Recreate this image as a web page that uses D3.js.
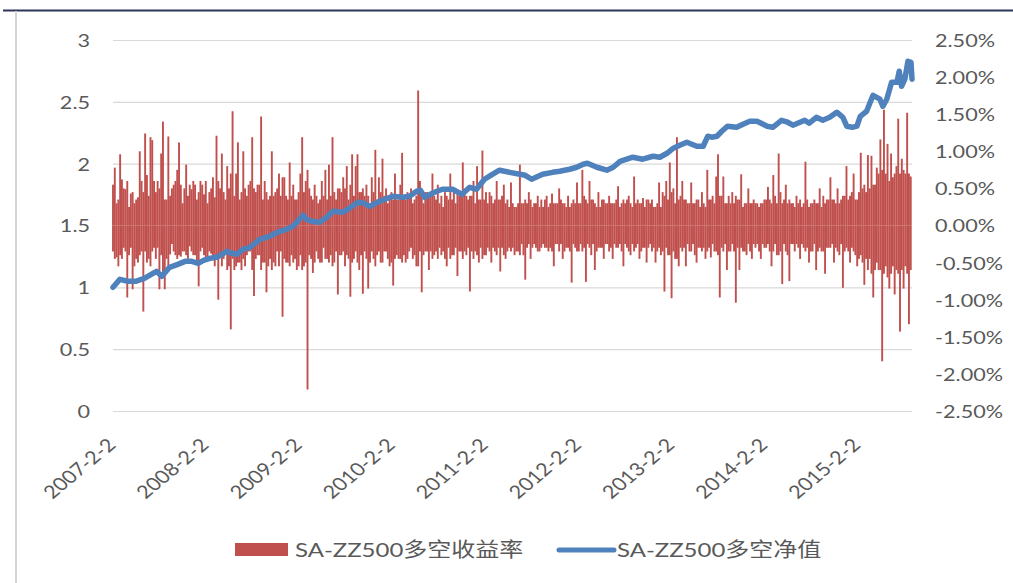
<!DOCTYPE html>
<html><head><meta charset="utf-8">
<script src="https://cdn.jsdelivr.net/npm/d3@7"></script>
<style>html,body{margin:0;padding:0;background:#fff;} svg{display:block;}</style>
</head><body>
<svg id="chart" width="1013" height="583"></svg>
<script>
// ---------------- data ----------------
const xTickLabels = ["2007-2-2","2008-2-2","2009-2-2","2010-2-2","2011-2-2","2012-2-2","2013-2-2","2014-2-2","2015-2-2"];
const leftTicks = [0, 0.5, 1, 1.5, 2, 2.5, 3];
const rightTicks = [-0.025, -0.02, -0.015, -0.01, -0.005, 0, 0.005, 0.01, 0.015, 0.02, 0.025];
const seriesNames = ["SA-ZZ500多空收益率", "SA-ZZ500多空净值"];
const returnStart = "2007-02-02";
const returnEnd = "2015-09-02";
// largest daily long-short return of each week, in percent
const weeklyReturns = [
 0.55,0.78,-0.43,0.35,0.96,0.62,-0.30,0.49,-0.97,0.25,0.43,-0.86,0.30,-0.45,0.38,1.00,-0.35,-1.16,1.24,0.68,
 -0.45,1.19,1.15,-0.30,0.45,0.60,-0.86,0.97,1.40,-0.86,0.35,1.20,-0.39,-0.25,0.55,-0.40,0.75,1.12,-0.42,0.30,
 -0.35,0.82,0.40,-0.28,0.49,-0.40,0.55,0.35,-0.82,0.60,-0.30,0.42,-0.45,0.30,0.45,-0.38,0.65,0.38,1.21,-1.00,
 0.50,0.97,-0.45,0.35,0.80,-0.55,-1.40,1.54,-0.60,0.70,1.12,-0.50,0.45,1.00,-0.55,0.40,-0.35,0.60,1.19,-0.95,
 0.45,-0.40,0.55,1.47,-0.50,0.60,-0.90,0.35,-0.45,1.00,0.40,-0.55,0.50,0.70,-0.35,-1.23,0.65,0.40,-0.50,0.85,
 -0.40,0.55,0.35,-0.60,0.45,0.70,1.19,-0.55,0.60,-2.21,0.50,0.40,-0.64,0.55,-0.35,0.30,-0.50,0.60,-0.30,0.75,
 -0.45,0.82,0.40,1.19,-0.50,0.35,-0.93,0.50,-0.40,0.65,-0.55,0.80,0.35,-0.96,0.96,-0.45,0.80,0.96,-0.60,0.45,
 -0.92,0.40,0.55,-0.85,0.30,0.65,-0.45,1.02,0.35,0.65,-0.50,0.90,-0.35,0.50,0.30,-0.55,0.45,-0.81,0.70,0.35,
 -0.45,0.55,0.98,0.40,-0.50,0.45,-0.35,0.50,0.30,-0.40,-0.55,1.82,0.60,-0.90,0.30,0.45,-0.35,-0.60,0.40,0.70,
 -0.40,0.35,0.55,-0.30,0.40,0.25,-0.45,-0.55,0.35,0.70,-0.40,0.45,0.30,-0.68,0.40,-0.35,0.85,0.45,-0.40,0.35,
 -0.89,0.40,0.60,-0.35,0.80,-0.50,0.35,1.01,-0.40,0.45,0.30,0.45,-0.50,0.30,-0.35,0.60,0.35,-0.62,0.40,0.55,
 -0.45,0.35,-0.30,0.58,0.30,-0.40,0.25,-0.35,0.82,0.30,-0.40,-0.73,0.30,0.45,-0.45,0.25,0.30,-0.30,0.40,-0.35,
 0.35,0.25,-0.30,0.40,-0.35,0.30,0.43,-0.55,0.30,-0.25,0.50,0.35,-0.45,0.30,-0.30,0.40,0.25,-0.77,0.35,-0.30,
 0.58,-0.35,0.30,0.75,0.40,-0.76,0.30,0.60,-0.40,0.35,-0.60,0.25,0.45,-0.30,0.35,-0.45,0.30,-0.25,0.40,0.30,
 -0.45,0.30,-0.30,0.53,0.25,-0.35,-0.55,0.30,0.35,0.40,-0.40,0.25,0.66,-0.30,0.35,-0.45,0.30,0.37,-0.30,-0.50,
 0.35,0.30,-0.35,0.25,-0.50,0.30,0.58,-0.40,0.45,-0.89,0.60,-0.40,0.85,-0.98,0.50,-0.45,1.19,-0.55,0.40,0.60,
 0.35,-0.55,0.30,-0.35,0.58,0.30,-0.40,-0.50,0.35,-0.30,0.45,0.30,-0.45,0.75,0.35,-0.43,0.40,-0.35,0.66,0.96,
 -0.97,0.40,0.66,0.30,-0.60,0.40,-0.35,0.45,0.30,-1.04,0.35,-0.60,0.69,-0.35,0.30,-0.40,0.50,0.30,-0.45,0.35,
 -0.30,0.30,0.25,-0.45,0.30,-0.30,0.35,0.52,-0.35,-0.55,0.68,0.40,-0.40,0.97,0.45,-0.79,0.35,0.55,-0.40,-0.75,
 0.30,-0.25,0.25,0.40,0.30,-0.45,0.25,-0.30,0.86,0.35,-0.50,0.30,-0.35,0.35,-0.60,0.30,0.50,-0.35,0.40,-0.65,
 0.35,-0.30,0.65,0.35,-0.50,0.30,0.50,-0.40,0.35,-0.84,0.40,0.80,-0.35,-0.50,0.45,0.70,0.35,-0.55,0.45,0.98,
 0.50,-0.80,0.45,0.95,-0.45,0.94,-0.97,0.55,0.78,-0.60,1.16,-1.83,1.56,0.70,1.10,-0.85,0.97,0.65,-0.93,0.80,
 1.44,-1.43,0.90,-0.85,0.70,1.52,-1.33,0.66
];
// size of the largest daily move in the opposite direction in the same week, in percent
const weeklyOppositeMove = [
 0.35,0.45,0.30,0.55,0.40,0.45,0.50,0.35,0.60,0.40,0.30,0.45,0.55,0.35,0.50,0.40,0.60,0.45,0.35,0.50,
 0.40,0.55,0.35,0.60,0.45,0.30,0.50,0.40,0.65,0.35,0.45,0.55,0.40,0.50,0.35,0.60,0.45,0.40,0.55,0.35,
 0.50,0.40,0.45,0.55,0.35,0.60,0.40,0.50,0.45,0.35,0.55,0.40,0.60,0.45,0.35,0.50,0.40,0.55,0.45,0.60,
 0.40,0.55,0.45,0.35,0.60,0.50,0.70,0.45,0.40,0.55,0.50,0.35,0.60,0.45,0.50,0.40,0.55,0.35,0.60,0.50,
 0.45,0.55,0.40,0.60,0.35,0.50,0.45,0.55,0.40,0.60,0.50,0.45,0.35,0.55,0.40,0.65,0.45,0.50,0.35,0.55,
 0.40,0.50,0.45,0.35,0.55,0.40,0.60,0.45,0.50,0.75,0.40,0.45,0.35,0.50,0.40,0.45,0.35,0.50,0.40,0.45,
 0.35,0.50,0.40,0.55,0.45,0.35,0.50,0.40,0.45,0.35,0.50,0.40,0.45,0.55,0.50,0.40,0.35,0.50,0.45,0.40,
 0.50,0.35,0.45,0.40,0.50,0.35,0.45,0.55,0.40,0.35,0.45,0.50,0.40,0.35,0.45,0.40,0.50,0.35,0.45,0.40,
 0.35,0.45,0.50,0.40,0.35,0.45,0.40,0.30,0.45,0.35,0.40,0.55,0.35,0.45,0.40,0.35,0.45,0.40,0.35,0.45,
 0.40,0.35,0.45,0.30,0.40,0.35,0.45,0.40,0.30,0.45,0.35,0.40,0.30,0.45,0.35,0.40,0.45,0.35,0.40,0.30,
 0.40,0.35,0.45,0.30,0.40,0.35,0.30,0.45,0.35,0.40,0.30,0.35,0.40,0.30,0.35,0.40,0.30,0.35,0.30,0.40,
 0.30,0.35,0.25,0.35,0.30,0.25,0.35,0.30,0.40,0.25,0.30,0.35,0.30,0.25,0.35,0.30,0.25,0.30,0.35,0.25,
 0.30,0.25,0.35,0.30,0.25,0.30,0.35,0.30,0.25,0.30,0.35,0.25,0.30,0.35,0.25,0.30,0.35,0.30,0.25,0.30,
 0.35,0.30,0.25,0.35,0.30,0.35,0.25,0.30,0.35,0.25,0.30,0.35,0.30,0.25,0.30,0.35,0.25,0.30,0.35,0.30,
 0.30,0.25,0.35,0.30,0.25,0.30,0.35,0.25,0.30,0.35,0.30,0.25,0.35,0.30,0.25,0.30,0.35,0.30,0.25,0.35,
 0.30,0.25,0.35,0.30,0.25,0.35,0.30,0.25,0.35,0.40,0.30,0.35,0.40,0.45,0.35,0.30,0.45,0.35,0.30,0.35,
 0.30,0.35,0.25,0.30,0.35,0.25,0.30,0.35,0.30,0.25,0.35,0.30,0.25,0.35,0.30,0.35,0.25,0.30,0.35,0.40,
 0.40,0.30,0.35,0.25,0.30,0.35,0.30,0.25,0.35,0.40,0.30,0.35,0.30,0.25,0.35,0.30,0.25,0.35,0.30,0.25,
 0.30,0.25,0.35,0.30,0.25,0.35,0.30,0.25,0.35,0.30,0.35,0.25,0.30,0.40,0.35,0.30,0.25,0.35,0.30,0.35,
 0.25,0.30,0.35,0.25,0.30,0.35,0.25,0.30,0.35,0.30,0.25,0.35,0.30,0.25,0.30,0.35,0.30,0.25,0.35,0.30,
 0.30,0.35,0.30,0.25,0.35,0.30,0.35,0.30,0.25,0.40,0.35,0.30,0.35,0.40,0.30,0.35,0.40,0.35,0.45,0.40,
 0.50,0.55,0.45,0.60,0.50,0.65,0.55,0.60,0.50,0.70,0.60,0.75,0.65,0.55,0.70,0.60,0.65,0.55,0.70,0.60,
 0.65,0.70,0.60,0.75,0.55,0.65,0.70,0.60
];
// net value of the long-short portfolio
const navDates = [
 "2007-02-02","2007-03-01","2007-04-01","2007-05-01","2007-06-05","2007-07-02","2007-07-23","2007-08-12","2007-09-12","2007-10-14",
 "2007-11-12","2007-12-08","2008-01-02","2008-01-23","2008-02-17","2008-03-17","2008-04-23","2008-05-12","2008-06-02","2008-06-26",
 "2008-07-23","2008-08-12","2008-08-31","2008-10-08","2008-11-17","2008-12-14","2009-01-08","2009-01-26","2009-02-17","2009-03-02",
 "2009-03-23","2009-04-23","2009-05-20","2009-06-14","2009-07-20","2009-08-17","2009-09-20","2009-10-14","2009-11-05","2009-12-14",
 "2010-02-02","2010-03-14","2010-04-10","2010-05-08","2010-05-23","2010-06-08","2010-07-17","2010-08-17","2010-09-26","2010-11-02",
 "2010-12-02","2010-12-29","2011-01-29","2011-03-01","2011-03-29","2011-05-08","2011-06-17","2011-07-08","2011-08-02","2011-09-14",
 "2011-10-23","2011-11-20","2011-12-29","2012-01-26","2012-02-20","2012-03-08","2012-04-14","2012-05-23","2012-06-17","2012-07-14",
 "2012-09-02","2012-10-11","2012-11-20","2012-12-17","2013-01-14","2013-02-08","2013-03-05","2013-04-02","2013-05-11","2013-06-05",
 "2013-06-23","2013-07-08","2013-07-29","2013-08-17","2013-09-08","2013-10-14","2013-11-08","2013-12-05","2014-01-02","2014-02-11",
 "2014-03-05","2014-04-08","2014-05-02","2014-05-23","2014-07-08","2014-07-26","2014-08-23","2014-09-17","2014-10-14","2014-11-11",
 "2014-12-05","2014-12-20","2015-01-11","2015-01-29","2015-02-11","2015-03-08","2015-04-02","2015-04-29","2015-05-11","2015-05-26",
 "2015-06-14","2015-07-05","2015-07-14","2015-07-23","2015-08-05","2015-08-17","2015-08-29","2015-09-02"
];
const navValues = [
 1.000,1.065,1.049,1.049,1.073,1.105,1.129,1.089,1.162,1.186,
 1.210,1.210,1.194,1.218,1.235,1.243,1.291,1.275,1.267,1.307,
 1.324,1.356,1.388,1.413,1.453,1.469,1.494,1.534,1.583,1.550,
 1.534,1.526,1.566,1.615,1.607,1.639,1.688,1.680,1.655,1.696,
 1.736,1.728,1.736,1.777,1.785,1.728,1.769,1.793,1.793,1.752,
 1.809,1.793,1.874,1.914,1.947,1.930,1.914,1.906,1.874,1.914,
 1.930,1.939,1.955,1.971,1.995,2.003,1.971,1.947,1.971,2.019,
 2.052,2.036,2.060,2.052,2.084,2.125,2.149,2.173,2.141,2.141,
 2.222,2.214,2.222,2.262,2.303,2.294,2.319,2.343,2.343,2.303,
 2.294,2.351,2.335,2.311,2.351,2.327,2.375,2.351,2.375,2.416,
 2.375,2.303,2.294,2.303,2.383,2.424,2.553,2.521,2.464,2.521,
 2.659,2.659,2.748,2.626,2.683,2.828,2.820,2.683
];

// ---------------- chart ----------------
const W = 1013, H = 583;
const plot = {left: 113, right: 912, top: 40, bottom: 411};
const FONT = "Lato, 'Noto Sans CJK SC', sans-serif";
const TEXT = "#595959";
const STRETCH = 1.2;
const parse = d3.timeParse("%Y-%m-%d");

const svg = d3.select("#chart");

const x = d3.scaleTime().domain([parse(returnStart), parse(returnEnd)]).range([plot.left, plot.right]);
const yL = d3.scaleLinear().domain([0, 3]).range([plot.bottom, plot.top]);
const yR = d3.scaleLinear().domain([-0.025, 0.025]).range([plot.bottom, plot.top]);

// frame lines
svg.append("line").attr("x1", 3).attr("x2", W).attr("y1", 10.5).attr("y2", 10.5)
  .attr("stroke", "#2c3558").attr("stroke-width", 2);
svg.append("line").attr("x1", 16).attr("x2", 16).attr("y1", 11).attr("y2", H)
  .attr("stroke", "#d4d4d4").attr("stroke-width", 2);

// gridlines
const grid = svg.append("g").attr("transform", `translate(${plot.left},0)`)
  .call(d3.axisLeft(yL).tickValues(leftTicks).tickSize(-(plot.right - plot.left)).tickFormat(""));
grid.select(".domain").remove();
grid.selectAll("line").attr("stroke", "#d9d9d9").attr("stroke-width", 1.2);

// bars: the week's main move and its opposite move
const start = parse(returnStart);
const barData = [];
weeklyReturns.forEach((v, i) => {
  const date = d3.timeWeek.offset(start, i);
  barData.push({date, v: v / 100});
  barData.push({date, v: (v >= 0 ? -1 : 1) * weeklyOppositeMove[i] / 100});
});
const bw = 1.9;
svg.append("g").selectAll("rect").data(barData).join("rect")
  .attr("x", d => x(d.date) - bw / 2)
  .attr("width", bw)
  .attr("y", d => Math.min(yR(d.v), yR(0)))
  .attr("height", d => Math.abs(yR(d.v) - yR(0)))
  .attr("fill", "#c0504d");

// line
const navData = navDates.map((d, i) => ({date: parse(d), v: navValues[i]}));
svg.append("path").datum(navData)
  .attr("fill", "none").attr("stroke", "#4f81bd").attr("stroke-width", 5.5)
  .attr("stroke-linejoin", "round").attr("stroke-linecap", "round")
  .attr("d", d3.line().x(d => x(d.date)).y(d => yL(d.v)).curve(d3.curveLinear));

// left axis
const gL = svg.append("g").attr("transform", `translate(90,0)`)
  .call(d3.axisLeft(yL).tickValues(leftTicks).tickSize(0).tickPadding(0).tickFormat(d3.format("")));
gL.select(".domain").remove();
gL.selectAll("text").attr("x", 0).attr("dy", "0.36em")
  .attr("transform", `scale(${STRETCH},1)`)
  .style("font-family", FONT).style("font-size", "18px").attr("fill", TEXT).attr("text-anchor", "end");

// right axis
const loc = d3.formatLocale({decimal: ".", thousands: ",", grouping: [3], currency: ["", ""], minus: "-", percent: "%"});
const gR = svg.append("g").attr("transform", `translate(935,0)`)
  .call(d3.axisRight(yR).tickValues(rightTicks).tickSize(0).tickPadding(0).tickFormat(loc.format(".2%")));
gR.select(".domain").remove();
gR.selectAll("text").attr("x", 0).attr("dy", "0.36em")
  .attr("transform", `scale(${STRETCH},1)`)
  .style("font-family", FONT).style("font-size", "18px").attr("fill", TEXT).attr("text-anchor", "start");

// x axis
const tickDates = xTickLabels.map(s => { const p = s.split("-"); return new Date(+p[0], +p[1] - 1, +p[2]); });
const gX = svg.append("g")
  .call(d3.axisBottom(x).tickValues(tickDates).tickSize(0).tickFormat((d, i) => xTickLabels[i]));
gX.select(".domain").remove();
gX.selectAll(".tick").attr("transform", d => `translate(${x(d) + 4},446)`);
gX.selectAll("text").attr("x", 0).attr("y", 0).attr("dy", 0)
  .attr("transform", `scale(${STRETCH},1) rotate(-45)`)
  .style("font-family", FONT).style("font-size", "18px").attr("fill", TEXT).attr("text-anchor", "end");

// legend
const lg = svg.append("g");
lg.append("rect").attr("x", 235).attr("y", 543).attr("width", 53).attr("height", 13).attr("fill", "#c0504d");
lg.append("text").attr("transform", `translate(295,557) scale(${STRETCH},1)`).text(seriesNames[0])
  .style("font-family", FONT).style("font-size", "20px").attr("fill", TEXT);
lg.append("line").attr("x1", 559).attr("x2", 614).attr("y1", 550).attr("y2", 550)
  .attr("stroke", "#4f81bd").attr("stroke-width", 5).attr("stroke-linecap", "round");
lg.append("text").attr("transform", `translate(617,557) scale(${STRETCH},1)`).text(seriesNames[1])
  .style("font-family", FONT).style("font-size", "20px").attr("fill", TEXT);
</script>
</body></html>
